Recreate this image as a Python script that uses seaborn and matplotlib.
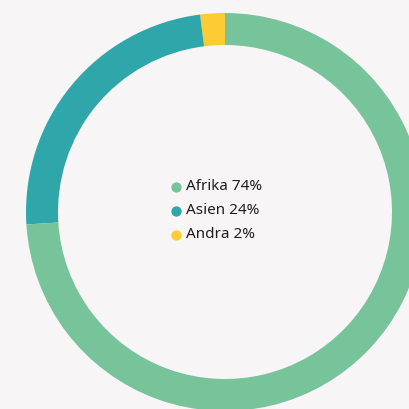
import matplotlib
matplotlib.use("Agg")
import matplotlib.pyplot as plt
import seaborn as sns

# Share of total by region (percent)
regions = ["Afrika", "Asien", "Andra"]
shares = [74, 24, 2]
colors = ["#77c39a", "#2ea6aa", "#fdcb33"]

sns.set_theme(style="white")
plt.rcParams["font.family"] = ["Noto Sans", "DejaVu Sans"]

bg = "#f7f5f5"
fig = plt.figure(figsize=(4.09, 4.09), dpi=100, facecolor=bg)
ax = fig.add_axes([0, 0, 1, 1])
ax.set_facecolor(bg)

# Donut: wedges run counter-clockwise from 12 o'clock, smallest share first
ax.pie(shares[::-1], colors=colors[::-1], startangle=90, counterclock=True,
       center=(225, 197), radius=199, frame=True,
       wedgeprops=dict(width=32, linewidth=0))
ax.set_xlim(0, 409)
ax.set_ylim(0, 409)
ax.set_aspect("equal")
ax.axis("off")

# Legend in the middle of the ring
for i, (name, val, col) in enumerate(zip(regions, shares, colors)):
    y = 222 - i * 24
    ax.scatter([176], [y], s=55, color=col, linewidths=0, zorder=3)
    ax.text(186.5, y, f"{name} {val}%", fontsize=11, color="#1f1f1f",
            va="center", ha="left")

fig.savefig("out.png", dpi=100, facecolor=bg)
